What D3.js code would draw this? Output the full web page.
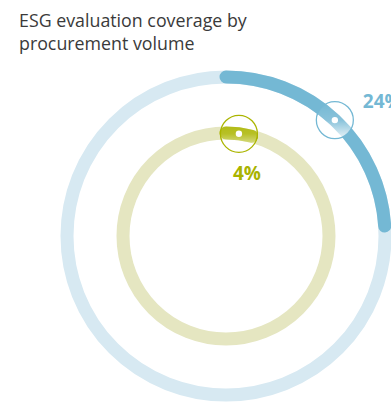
<!DOCTYPE html>
<html>
<head>
<meta charset="utf-8">
<script src="https://cdn.jsdelivr.net/npm/d3@7"></script>
<style>
  html, body { margin: 0; padding: 0; background: #fff; }
  svg { display: block; }
</style>
</head>
<body>
<svg id="chart" width="391" height="403"></svg>
<script>
// ---- data ----
const titleLines = ["ESG evaluation coverage by", "procurement volume"];
const series = ["Outer", "Inner"];
const values = [24, 4];
const labels = ["24%", "4%"];
const trackColors = ["#d7e9f2", "#e5e6c1"];
const valueColors = ["#74b8d4", "#abb500"];
const labelColors = ["#74b8d4", "#a9b300"];

// ---- layout ----
const W = 391, H = 403;
const cx = 226, cy = 236;
const radii = [159, 103];
const ringWidth = 13;
const svg = d3.select("#chart");

const angle = d3.scaleLinear().domain([0, 100]).range([0, 2 * Math.PI]);

// title
const title = svg.append("text")
  .attr("x", 19).attr("y", 27)
  .attr("font-family", "'Open Sans', sans-serif")
  .attr("font-size", 18)
  .attr("fill", "#3a3a3a");
title.selectAll("tspan").data(titleLines).join("tspan")
  .attr("x", 19).attr("dy", (d, i) => i === 0 ? 0 : 23)
  .text(d => d);
// fit first line width to ~228px
const firstLen = title.select("tspan").node().getComputedTextLength();
title.attr("font-size", 18 * 228 / firstLen);

const defs = svg.append("defs");
const grad = defs.append("linearGradient").attr("id", "mg").attr("x1", 0).attr("y1", 0).attr("x2", 0).attr("y2", 1);
grad.append("stop").attr("offset", "0%").attr("stop-color", "#fff").attr("stop-opacity", 0);
grad.append("stop").attr("offset", "50%").attr("stop-color", "#fff").attr("stop-opacity", 0.15);
grad.append("stop").attr("offset", "100%").attr("stop-color", "#fff").attr("stop-opacity", 0.85);

const g = svg.append("g").attr("transform", `translate(${cx},${cy})`);

function arcPath(r, a0, a1) {
  const p = d3.path();
  // d3 angle: 0 at top, clockwise -> convert to canvas angle
  p.arc(0, 0, r, a0 - Math.PI / 2, a1 - Math.PI / 2, false);
  return p.toString();
}

const labelOffsets = [[28, -12, "start"], [8, 46, "middle"]];

series.forEach((s, i) => {
  const r = radii[i];
  // track
  g.append("circle")
    .attr("r", r)
    .attr("fill", "none")
    .attr("stroke", trackColors[i])
    .attr("stroke-width", ringWidth);
  // value arc
  g.append("path")
    .attr("d", arcPath(r, angle(0), angle(values[i])))
    .attr("fill", "none")
    .attr("stroke", valueColors[i])
    .attr("stroke-width", ringWidth)
    .attr("stroke-linecap", "round");
});

series.forEach((s, i) => {
  const r = radii[i];
  const mid = angle(values[i] / 2);
  const mx = r * Math.sin(mid), my = -r * Math.cos(mid);
  g.append("circle")
    .attr("cx", mx).attr("cy", my).attr("r", 18.5)
    .attr("fill", "url(#mg)")
    .attr("stroke", valueColors[i])
    .attr("stroke-width", 1.3);
  g.append("circle")
    .attr("cx", mx).attr("cy", my).attr("r", 3.2)
    .attr("fill", "#fff");
  const [ox, oy, anchor] = labelOffsets[i];
  g.append("text")
    .attr("x", mx + ox).attr("y", my + oy)
    .attr("text-anchor", anchor)
    .attr("font-family", "'Open Sans', sans-serif")
    .attr("font-weight", 700)
    .attr("font-size", 19)
    .attr("fill", labelColors[i])
    .text(labels[i]);
});
</script>
</body>
</html>
